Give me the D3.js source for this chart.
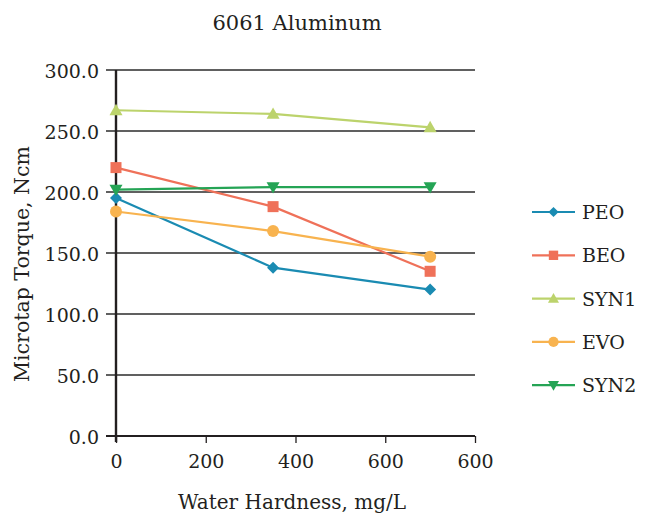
<!DOCTYPE html>
<html>
<head>
<meta charset="utf-8">
<script src="https://cdn.jsdelivr.net/npm/d3@7"></script>
<style>
  body { margin: 0; background: #fff; }
  svg text { font-family: "DejaVu Serif", "Liberation Serif", serif; fill: #231f20; }
</style>
</head>
<body>
<div id="chart"></div>
<script>
// data
const hardness = [0, 350, 700];
const seriesNames = ['PEO', 'BEO', 'SYN1', 'EVO', 'SYN2'];
const peo = [195, 138, 120];
const beo = [220, 188, 135];
const syn1 = [267, 264, 253];
const evo = [184, 168, 147];
const syn2 = [202, 204, 204];
const yTicks = [0, 50, 100, 150, 200, 250, 300];
const xTicks = [0, 200, 400, 600, 800];
const xTickLabels = ['0', '200', '400', '600', '600'];

const colors = {
    PEO: '#1a8bb2',
    BEO: '#ef7159',
    SYN1: '#bcd36c',
    EVO: '#f8b34f',
    SYN2: '#25a455'
};
const symbols = {
    PEO: 'diamond',
    BEO: 'square',
    SYN1: 'triUp',
    EVO: 'circle',
    SYN2: 'triDown'
};
const values = { PEO: peo, BEO: beo, SYN1: syn1, EVO: evo, SYN2: syn2 };

const width = 660, height = 516;
const margin = { left: 116, right: 185, top: 70, bottom: 80 };
const plotW = width - margin.left - margin.right;
const plotH = height - margin.top - margin.bottom;

const svg = d3.select('#chart').append('svg')
    .attr('width', width)
    .attr('height', height);

const g = svg.append('g')
    .attr('transform', `translate(${margin.left},${margin.top})`);

const x = d3.scaleLinear().domain([0, 800]).range([0, plotW]);
const y = d3.scaleLinear().domain([0, 300]).range([plotH, 0]);

// gridlines (also serve as left tick marks)
g.append('g')
    .selectAll('line')
    .data(yTicks.filter(t => t > 0))
    .enter()
    .append('line')
    .attr('x1', -10)
    .attr('x2', plotW)
    .attr('y1', d => y(d))
    .attr('y2', d => y(d))
    .attr('stroke', '#2b2b2b')
    .attr('stroke-width', 1.4);

// y tick labels
g.append('g')
    .selectAll('text')
    .data(yTicks)
    .enter()
    .append('text')
    .attr('x', -17)
    .attr('y', d => y(d) + 7.5)
    .attr('text-anchor', 'end')
    .style('font-size', '19px')
    .text(d => d.toFixed(1));

// x axis
const xAxis = d3.axisBottom(x)
    .tickValues(xTicks)
    .tickSize(7)
    .tickFormat((d, i) => xTickLabels[i]);

const xg = g.append('g')
    .attr('transform', `translate(0,${plotH})`)
    .call(xAxis);
xg.select('.domain').remove();
xg.selectAll('.tick line').attr('stroke', '#231f20').attr('stroke-width', 1.3);
xg.selectAll('.tick text')
    .attr('y', 32)
    .attr('dy', null)
    .style('font-size', '19px')
    .style('font-family', '"DejaVu Serif", serif')
    .attr('fill', '#231f20');

g.append('line')
    .attr('x1', -10).attr('x2', plotW)
    .attr('y1', plotH).attr('y2', plotH)
    .attr('stroke', '#231f20')
    .attr('stroke-width', 2);

// y axis line
g.append('line')
    .attr('x1', 0).attr('x2', 0)
    .attr('y1', 0).attr('y2', plotH + 6)
    .attr('stroke', '#231f20')
    .attr('stroke-width', 2.4);

function drawMarker(sel, name, cx, cy, scale) {
    const s = scale || 1;
    const c = colors[name];
    const type = symbols[name];
    if (type === 'circle') {
        sel.append('circle').attr('cx', cx).attr('cy', cy).attr('r', 6 * s).attr('fill', c);
    } else if (type === 'square') {
        sel.append('rect').attr('x', cx - 5.5 * s).attr('y', cy - 5.5 * s)
            .attr('width', 11 * s).attr('height', 11 * s).attr('fill', c);
    } else if (type === 'diamond') {
        const r = 6 * s;
        sel.append('path')
            .attr('d', `M${cx},${cy - r}L${cx + r},${cy}L${cx},${cy + r}L${cx - r},${cy}Z`)
            .attr('fill', c);
    } else if (type === 'triUp') {
        const r = 6.5 * s;
        sel.append('path')
            .attr('d', `M${cx},${cy - r}L${cx + r},${cy + r * 0.75}L${cx - r},${cy + r * 0.75}Z`)
            .attr('fill', c);
    } else if (type === 'triDown') {
        const r = 6.5 * s;
        sel.append('path')
            .attr('d', `M${cx},${cy + r}L${cx + r},${cy - r * 0.75}L${cx - r},${cy - r * 0.75}Z`)
            .attr('fill', c);
    }
}

const line = d3.line()
    .x(d => x(d[0]))
    .y(d => y(d[1]));

// draw series lines and markers
seriesNames.forEach(name => {
    const pts = hardness.map((h, i) => [h, values[name][i]]);
    g.append('path')
        .datum(pts)
        .attr('fill', 'none')
        .attr('stroke', colors[name])
        .attr('stroke-width', 2.2)
        .attr('d', line);
    const mg = g.append('g');
    pts.forEach(p => drawMarker(mg, name, x(p[0]), y(p[1])));
});

// title
svg.append('text')
    .attr('x', 297)
    .attr('y', 30)
    .attr('text-anchor', 'middle')
    .style('font-size', '21px')
    .text('6061 Aluminum');

// axis titles
svg.append('text')
    .attr('transform', 'translate(29,264) rotate(-90)')
    .attr('text-anchor', 'middle')
    .style('font-size', '20.5px')
    .text('Microtap Torque, Ncm');

svg.append('text')
    .attr('x', 292)
    .attr('y', 509)
    .attr('text-anchor', 'middle')
    .style('font-size', '20px')
    .text('Water Hardness, mg/L');

// legend
const legend = svg.append('g').attr('transform', 'translate(532,212)');
seriesNames.forEach((name, i) => {
    const row = legend.append('g').attr('transform', `translate(0,${i * 43.3})`);
    row.append('line')
        .attr('x1', 0).attr('x2', 43)
        .attr('y1', 0).attr('y2', 0)
        .attr('stroke', colors[name])
        .attr('stroke-width', 2.2);
    drawMarker(row, name, 21.5, 0, 0.85);
    row.append('text')
        .attr('x', 50)
        .attr('y', 7)
        .style('font-size', '19px')
        .text(name);
});
</script>
</body>
</html>
